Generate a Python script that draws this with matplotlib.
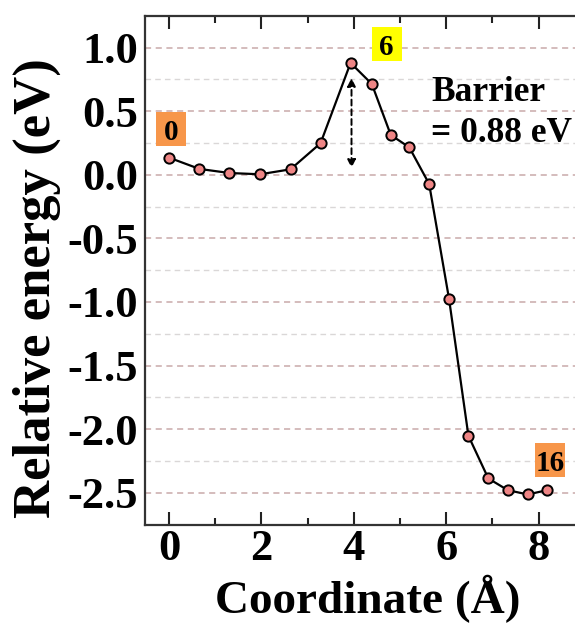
import matplotlib
matplotlib.use("Agg")
import matplotlib.pyplot as plt
from matplotlib.patches import Rectangle
from matplotlib.ticker import MultipleLocator

plt.rcParams['font.family'] = ['Liberation Serif', 'DejaVu Serif']
plt.rcParams['font.weight'] = 'bold'

# Reaction path: coordinate (Å) vs relative energy (eV)
coordinate = [0.00, 0.66, 1.31, 1.97, 2.63, 3.28, 3.93, 4.39, 4.80, 5.20,
              5.63, 6.06, 6.48, 6.91, 7.33, 7.76, 8.19]
energy = [0.135, 0.046, 0.014, 0.004, 0.043, 0.248, 0.88, 0.714, 0.313, 0.216,
          -0.072, -0.975, -2.053, -2.388, -2.48, -2.514, -2.48]

image_labels = ["0", "6", "16"]
image_index = [0, 6, 16]
barrier = 0.88

y_ticks = [1.0, 0.5, 0.0, -0.5, -1.0, -1.5, -2.0, -2.5]
y_minor = [0.75, 0.25, -0.25, -0.75, -1.25, -1.75, -2.25]

fig = plt.figure(figsize=(5.75, 6.24), dpi=100)
ax = fig.add_axes([0.2522, 0.1587, 0.765, 0.8157])

ax.set_xlim(-0.518, 9.0)
ax.set_ylim(-2.754, 1.249)

# dashed horizontal grid: major and minor levels
for y in y_ticks:
    ax.axhline(y, color='#c9a9aa', lw=1.1, ls=(0, (4, 3)), zorder=0)
for y in y_minor:
    ax.axhline(y, color='#dad7d7', lw=1.0, ls=(0, (4, 3)), zorder=0)

ax.plot(coordinate, energy, color='black', lw=1.6, zorder=2,
        marker='o', markersize=7.4, markerfacecolor='#ee8585',
        markeredgecolor='black', markeredgewidth=1.4)

ax.xaxis.set_major_locator(MultipleLocator(2))
ax.xaxis.set_minor_locator(MultipleLocator(1))
ax.set_yticks(y_ticks)
ax.set_yticklabels([f'{v:.1f}' for v in y_ticks])

ax.tick_params(axis='x', which='major', direction='in', length=9.5, width=1.5,
               top=True, labelsize=32, pad=3, color='#222222')
ax.tick_params(axis='x', which='minor', direction='in', length=5, width=1.5,
               top=True, color='#222222')
ax.tick_params(axis='y', which='both', length=0, labelsize=32, pad=5)

for s in ax.spines.values():
    s.set_linewidth(1.6)
    s.set_color('#333333')

ax.set_xlabel('Coordinate (Å)', fontsize=34, fontweight='bold')
ax.set_ylabel('Relative energy (eV)', fontsize=38, fontweight='bold')
ax.xaxis.set_label_coords(0.506, -0.098)
ax.yaxis.set_label_coords(-0.19, 0.465)

# image number tags in fixed-size boxes
data_to_axes = ax.transData + ax.transAxes.inverted()
box_w, box_h = 30 / (0.765 * 575), 34 / (0.8157 * 624)
box_colors = {"0": '#f7964a', "6": '#ffff00', "16": '#f7964a'}
tag_pos = {"0": (0.04, 0.36), "6": (4.71, 1.025), "16": (8.25, -2.244)}
for lab, idx in zip(image_labels, image_index):
    cx, cy = data_to_axes.transform(tag_pos[lab])
    ax.add_patch(Rectangle((cx - box_w / 2, cy - box_h / 2), box_w, box_h,
                           transform=ax.transAxes, fc=box_colors[lab], ec='none',
                           zorder=3, clip_on=False))
    ax.text(cx, cy, lab, transform=ax.transAxes, fontsize=21, fontweight='bold',
            ha='center', va='center_baseline', zorder=4)

# barrier arrow
ax.annotate('', xy=(coordinate[6] + 0.02, 0.054), xytext=(coordinate[6] + 0.02, 0.761),
            arrowprops=dict(arrowstyle='<|-|>', ls=(0, (3, 2)), lw=1.4, color='black',
                            mutation_scale=12, shrinkA=0, shrinkB=0), zorder=3)

ax.text(5.68, 0.651, 'Barrier', fontsize=25.5, fontweight='bold', ha='left', va='center')
ax.text(5.68, 0.328, f'= {barrier:.2f} eV', fontsize=25.5, fontweight='bold',
        ha='left', va='center')

fig.savefig('out.png', dpi=100)
